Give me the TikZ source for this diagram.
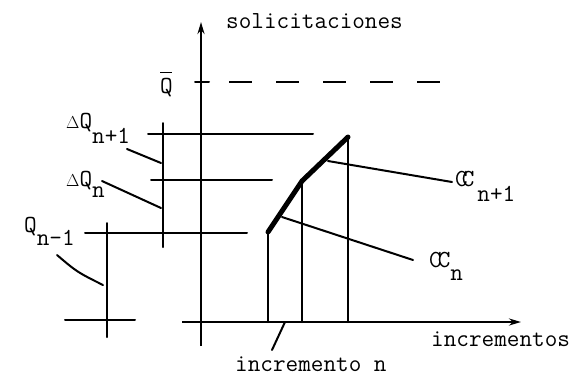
\documentclass[tikz,border=0pt]{standalone}
\usetikzlibrary{arrows.meta}
\newcommand{\lowsub}[2][14pt]{\raisebox{-#1}{#2}}
\newcommand{\dlt}{{\fontsize{17}{17}\selectfont$\Delta$}}
\newcommand{\qbarlabel}{\vbox{\hrule height 1.5pt width 12pt\kern4.5pt\hbox{Q}}}
\newcommand{\ccA}{C\kern-6pt C}
\newcommand{\ccB}{C\kern-4pt C}
\begin{document}
\begin{tikzpicture}[x=1pt,y=-1pt,
  ln/.style={line width=2pt,line cap=round},
  axisline/.style={line width=2pt,-{Stealth[length=12pt,width=7pt]}},
  crv/.style={line width=5pt,line join=round,line cap=round},
  lbl/.style={font=\fontsize{24.5}{28}\selectfont\ttfamily,inner sep=0pt,anchor=base west}]
\useasboundingbox (0,0) rectangle (572,376);
% coordinates
\coordinate (yb) at (201,346); \coordinate (yt) at (201,22);
\coordinate (xl) at (182,322); \coordinate (xr) at (521,322);
\coordinate (qt1) at (195,82); \coordinate (qt2) at (209,82);
\coordinate (d1) at (229,82); \coordinate (d2) at (440,82);
\coordinate (h1a) at (148,134); \coordinate (h1b) at (313,134);
\coordinate (h2a) at (151,180); \coordinate (h2b) at (272,180);
\coordinate (h3a) at (85,233); \coordinate (h3b) at (247,233);
\coordinate (h4a) at (65,320); \coordinate (h4b) at (135,320);
\coordinate (v1a) at (163,123); \coordinate (v1b) at (163,247);
\coordinate (v2a) at (107,223); \coordinate (v2b) at (107,337);
\coordinate (c0) at (268,322); \coordinate (c1) at (268,232);
\coordinate (c2) at (302,181); \coordinate (c3) at (348,137);
\coordinate (c2b) at (302,322); \coordinate (c3b) at (348,322);
\coordinate (l1a) at (328,161); \coordinate (l1b) at (452,182);
\coordinate (l2a) at (282,217); \coordinate (l2b) at (413,260);
\coordinate (l3a) at (285,322); \coordinate (l3b) at (272,350);
\coordinate (l4a) at (127,149); \coordinate (l4b) at (161,163);
\coordinate (l5a) at (102,181); \coordinate (l5b) at (161,208);
\coordinate (l6a) at (57,255); \coordinate (l6b) at (103,285);
% labels
\node[lbl] (sol) at (226,28) {solicitaciones};
\node[lbl] (qbar) at (160,93) {\qbarlabel};
\node[lbl] (dq1) at (66,128) {\dlt Q\lowsub[15pt]{n+1}};
\node[lbl] (dqn) at (66,186) {\dlt Q\lowsub[11pt]{n}};
\node[lbl] (qn1) at (24,232) {Q\lowsub[13pt]{n-1}};
\node[lbl] (ccn1) at (455,186) {\ccA\kern3pt\lowsub[15pt]{n+1}};
\node[lbl] (ccn) at (429,267) {\ccB\lowsub[13pt]{n}};
\node[lbl] (incs) at (431,346) {incrementos};
\node[lbl] (incn) at (235,371) {incremento n};
% axes
\draw[axisline] (yb) -- (yt);
\draw[axisline] (xl) -- (xr);
% Q bar level
\draw[ln] (qt1) -- (qt2);
\draw[ln,dash pattern=on 23pt off 24pt,line cap=butt] (d1) -- (d2);
% levels
\draw[ln] (h1a) -- (h1b);
\draw[ln] (h2a) -- (h2b);
\draw[ln] (h3a) -- (h3b);
\draw[ln] (h4a) -- (h4b);
\draw[ln] (v1a) -- (v1b);
\draw[ln] (v2a) -- (v2b);
% curve
\draw[ln,line width=2.4pt] (c0) -- (c1);
\draw[crv] (c1) -- (c2) -- (c3);
\draw[ln] (c2) -- (c2b);
\draw[ln] (c3) -- (c3b);
% leaders
\draw[ln] (l1a) -- (l1b);
\draw[ln] (l2a) -- (l2b);
\draw[ln] (l3a) -- (l3b);
\draw[ln] (l4a) -- (l4b);
\draw[ln] (l5a) -- (l5b);
\draw[ln] (l6a) .. controls (77,272) .. (l6b);
\end{tikzpicture}
\end{document}
